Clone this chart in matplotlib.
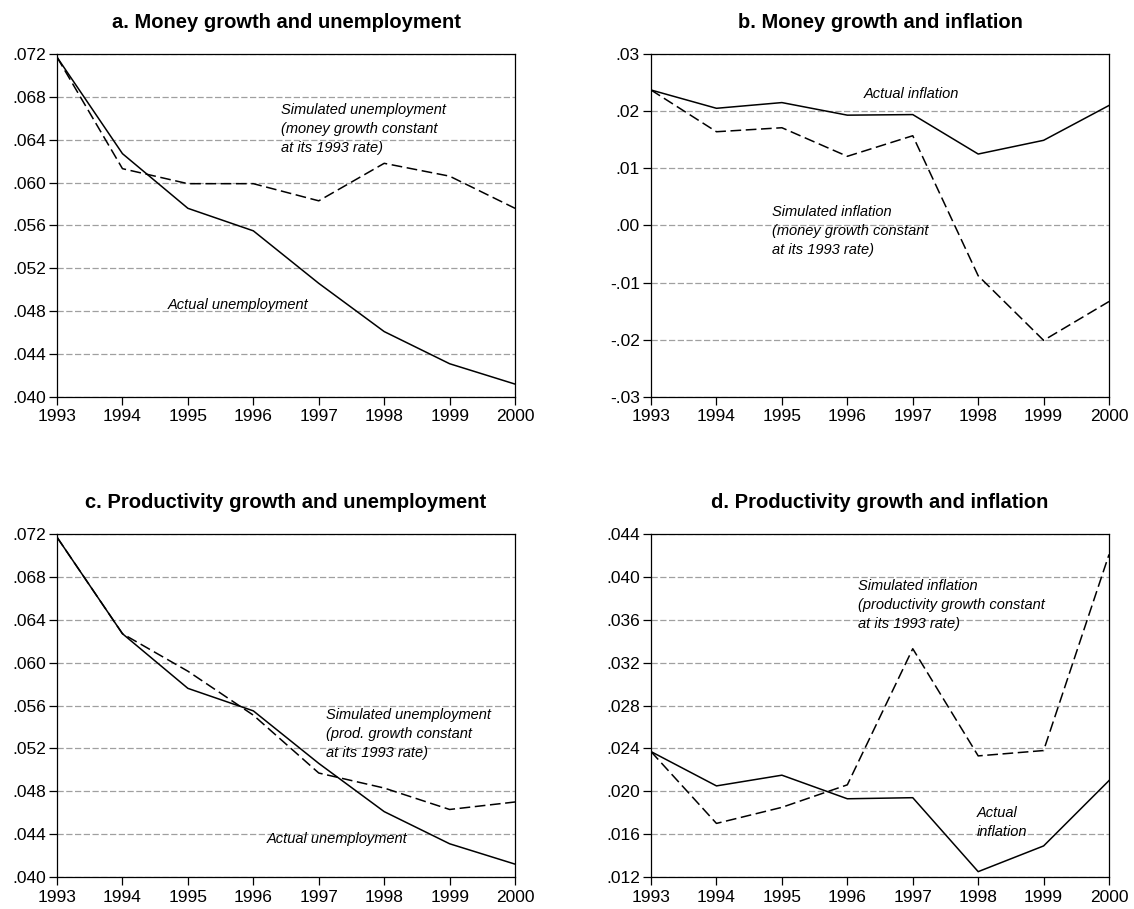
import numpy as np
import matplotlib
matplotlib.use("Agg")
from matplotlib import pyplot as plt
from matplotlib.ticker import FuncFormatter

plt.rcParams['font.family'] = ['Liberation Sans', 'DejaVu Sans']

years = [1993, 1994, 1995, 1996, 1997, 1998, 1999, 2000]

# actual series (shared by the two unemployment / two inflation panels)
actual_unemp = [0.0717, 0.0627, 0.0576, 0.0555, 0.0506, 0.0461, 0.0431, 0.0412]
actual_infl = [0.0237, 0.0205, 0.0215, 0.0193, 0.0194, 0.0125, 0.0149, 0.0210]

# simulated series
sim_unemp_money = [0.0717, 0.0613, 0.0599, 0.0599, 0.0583, 0.0618, 0.0606, 0.0576]
sim_infl_money = [0.0237, 0.0164, 0.0171, 0.0121, 0.0157, -0.0088, -0.0201, -0.0133]
sim_unemp_prod = [0.0717, 0.0627, 0.0592, 0.0551, 0.0497, 0.0483, 0.0463, 0.0470]
sim_infl_prod = [0.0237, 0.0170, 0.0185, 0.0206, 0.0333, 0.0233, 0.0238, 0.0421]

titles = ['a. Money growth and unemployment',
          'b. Money growth and inflation',
          'c. Productivity growth and unemployment',
          'd. Productivity growth and inflation']


def fmt(decimals):
    def f(v, pos):
        s = f"{v:.{decimals}f}"
        return s.replace('0.', '.', 1)
    return FuncFormatter(f)


def panel(rect, title, actual, sim, ylim, step, decimals, notes):
    ax = fig.add_axes(rect)
    ax.plot(years, actual, color='black', lw=1.1)
    ax.plot(years, sim, color='black', lw=1.1, linestyle=(0, (7, 3)))
    ax.set_xlim(1993, 2000)
    ax.set_ylim(*ylim)
    ax.set_xticks(years)
    ax.set_yticks(np.arange(ylim[0], ylim[1] + step / 2, step))
    ax.yaxis.set_major_formatter(fmt(decimals))
    ax.yaxis.grid(True, color='#a0a0a0', lw=0.9, linestyle=(0, (5, 2)))
    ax.set_axisbelow(True)
    ax.tick_params(direction='out', length=6, width=0.9, labelsize=12.5, pad=2)
    ax.tick_params(axis='x', pad=3)
    for sp in ax.spines.values():
        sp.set_linewidth(0.9)
    ax.set_title(title, fontsize=14.5, fontweight='bold', pad=19)
    for x, y, txt in notes:
        ax.text(x, y, txt, transform=ax.transAxes, fontsize=10.5,
                style='italic', va='center', ha='left', linespacing=1.45)
    return ax


fig = plt.figure(figsize=(11.34, 9.09), dpi=100)

left_a, left_b = 0.0503, 0.5741
w, h = 0.4039, 0.3773
top_row, bot_row = 0.5633, 0.0352

panel([left_a, top_row, w, h], titles[0], actual_unemp, sim_unemp_money,
      (0.040, 0.072), 0.004, 3,
      [(0.489, 0.782, 'Simulated unemployment\n(money growth constant\nat its 1993 rate)'),
       (0.241, 0.269, 'Actual unemployment')])

panel([left_b, top_row, w, h], titles[1], actual_infl, sim_infl_money,
      (-0.03, 0.03), 0.01, 2,
      [(0.464, 0.883, 'Actual inflation'),
       (0.265, 0.485, 'Simulated inflation\n(money growth constant\nat its 1993 rate)')])

panel([left_a, bot_row, w, h], titles[2], actual_unemp, sim_unemp_prod,
      (0.040, 0.072), 0.004, 3,
      [(0.587, 0.418, 'Simulated unemployment\n(prod. growth constant\nat its 1993 rate)'),
       (0.457, 0.110, 'Actual unemployment')])

panel([left_b, bot_row, w, h], titles[3], actual_infl, sim_infl_prod,
      (0.012, 0.044), 0.004, 3,
      [(0.451, 0.792, 'Simulated inflation\n(productivity growth constant\nat its 1993 rate)'),
       (0.711, 0.158, 'Actual\ninflation')])

fig.savefig('out.png', dpi=100)
